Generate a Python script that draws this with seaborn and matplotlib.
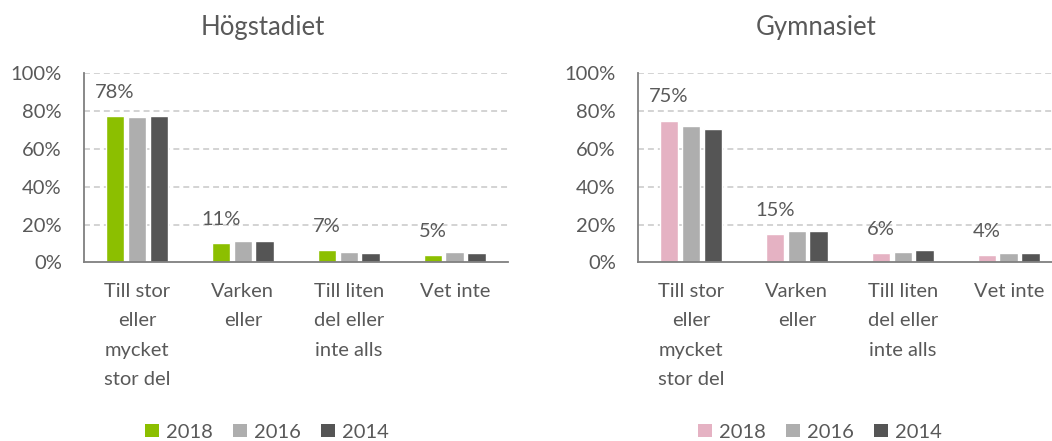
import numpy as np
import pandas as pd
import matplotlib
matplotlib.use('Agg')
import matplotlib.pyplot as plt
import seaborn as sns
from matplotlib.patches import Patch

categories = ['Till stor\neller\nmycket\nstor del', 'Varken\neller', 'Till liten\ndel eller\ninte alls', 'Vet inte']
years = ['2018', '2016', '2014']

hog_2018 = [77.6, 10.2, 6.5, 3.9]
hog_2016 = [76.7, 11.1, 5.5, 5.5]
hog_2014 = [77.6, 11.1, 4.8, 4.8]
hog_labels = ['78%', '11%', '7%', '5%']

gym_2018 = [75.0, 14.8, 4.8, 3.9]
gym_2016 = [72.1, 16.6, 5.5, 4.8]
gym_2014 = [70.4, 16.6, 6.5, 4.8]
gym_labels = ['75%', '15%', '6%', '4%']

yticks = [0, 20, 40, 60, 80, 100]

txt = '#595959'
sns.set_style('white')
plt.rcParams['font.family'] = ['Lato', 'DejaVu Sans']


def make_df(a, b, c):
    rows = []
    for yr, vals in zip(years, [a, b, c]):
        for cat, v in zip(categories, vals):
            rows.append({'kat': cat, 'year': yr, 'val': v})
    return pd.DataFrame(rows)


def draw(ax, df, labels, pal):
    sns.barplot(data=df, x='kat', y='val', hue='year', order=categories, hue_order=years,
                palette=pal, width=0.62, gap=0.15, ax=ax, legend=False, saturation=1)
    ax.set_xlim(-0.5, 3.5)
    ax.set_ylim(0, 100)
    ax.set_yticks(yticks)
    ax.set_yticklabels([f'{t}%' for t in yticks], fontsize=14.5, color=txt)
    ax.set_xticks([-0.5, 0.5, 1.5, 2.5, 3.5])
    ax.set_xticklabels([])
    ax.set_xticks(range(4), minor=True)
    ax.set_xticklabels(categories, minor=True, fontsize=14.5, color=txt, linespacing=1.88, va='top')
    ax.tick_params(axis='x', which='minor', length=0, pad=15)
    ax.tick_params(axis='x', which='major', length=5, width=1.3, color='#7f7f7f', direction='out')
    ax.tick_params(axis='y', length=5, width=1.3, color='#7f7f7f', pad=11, direction='out')
    ax.set_xlabel('')
    ax.set_ylabel('')
    for t in yticks[1:]:
        ax.axhline(t, color='#d0d0d0', lw=1.3, ls=(0, (3.3, 2.2)), zorder=0)
    sns.despine(ax=ax)
    for s in ['left', 'bottom']:
        ax.spines[s].set_color('#7f7f7f')
        ax.spines[s].set_linewidth(1.3)
    ax.spines['bottom'].set_zorder(5)
    vals2018 = df[df.year == '2018']['val'].tolist()
    for i, (v, lab) in enumerate(zip(vals2018, labels)):
        ax.text(i - 0.62 / 3, v + 12.5, lab, ha='center', va='center', fontsize=14.5, color=txt)


fig = plt.figure(figsize=(10.52, 4.41), dpi=100)
ax1 = fig.add_axes([84 / 1052, 178.7 / 441, 423.7 / 1052, 189 / 441])
ax2 = fig.add_axes([638 / 1052, 178.7 / 441, 423.7 / 1052, 189 / 441])

pal1 = {'2018': '#8cbf00', '2016': '#aeaeae', '2014': '#555555'}
pal2 = {'2018': '#e5b2c3', '2016': '#aeaeae', '2014': '#555555'}

draw(ax1, make_df(hog_2018, hog_2016, hog_2014), hog_labels, pal1)
draw(ax2, make_df(gym_2018, gym_2016, gym_2014), gym_labels, pal2)

fig.text(263 / 1052, 1 - 27 / 441, 'Högstadiet', ha='center', va='center', fontsize=18.5, color=txt)
fig.text(816 / 1052, 1 - 27 / 441, 'Gymnasiet', ha='center', va='center', fontsize=18.5, color=txt)

for pal, xc in [(pal1, 267), (pal2, 820)]:
    handles = [Patch(facecolor=pal[y], edgecolor='none', label=y) for y in years]
    fig.legend(handles=handles, loc='center', bbox_to_anchor=(xc / 1052, 1 - 432 / 441), ncol=3,
               frameon=False, fontsize=14.5, labelcolor=txt, handlelength=0.68, handleheight=0.68,
               handletextpad=0.35, columnspacing=1.0, borderpad=0)

fig.savefig('out.png', dpi=100)
